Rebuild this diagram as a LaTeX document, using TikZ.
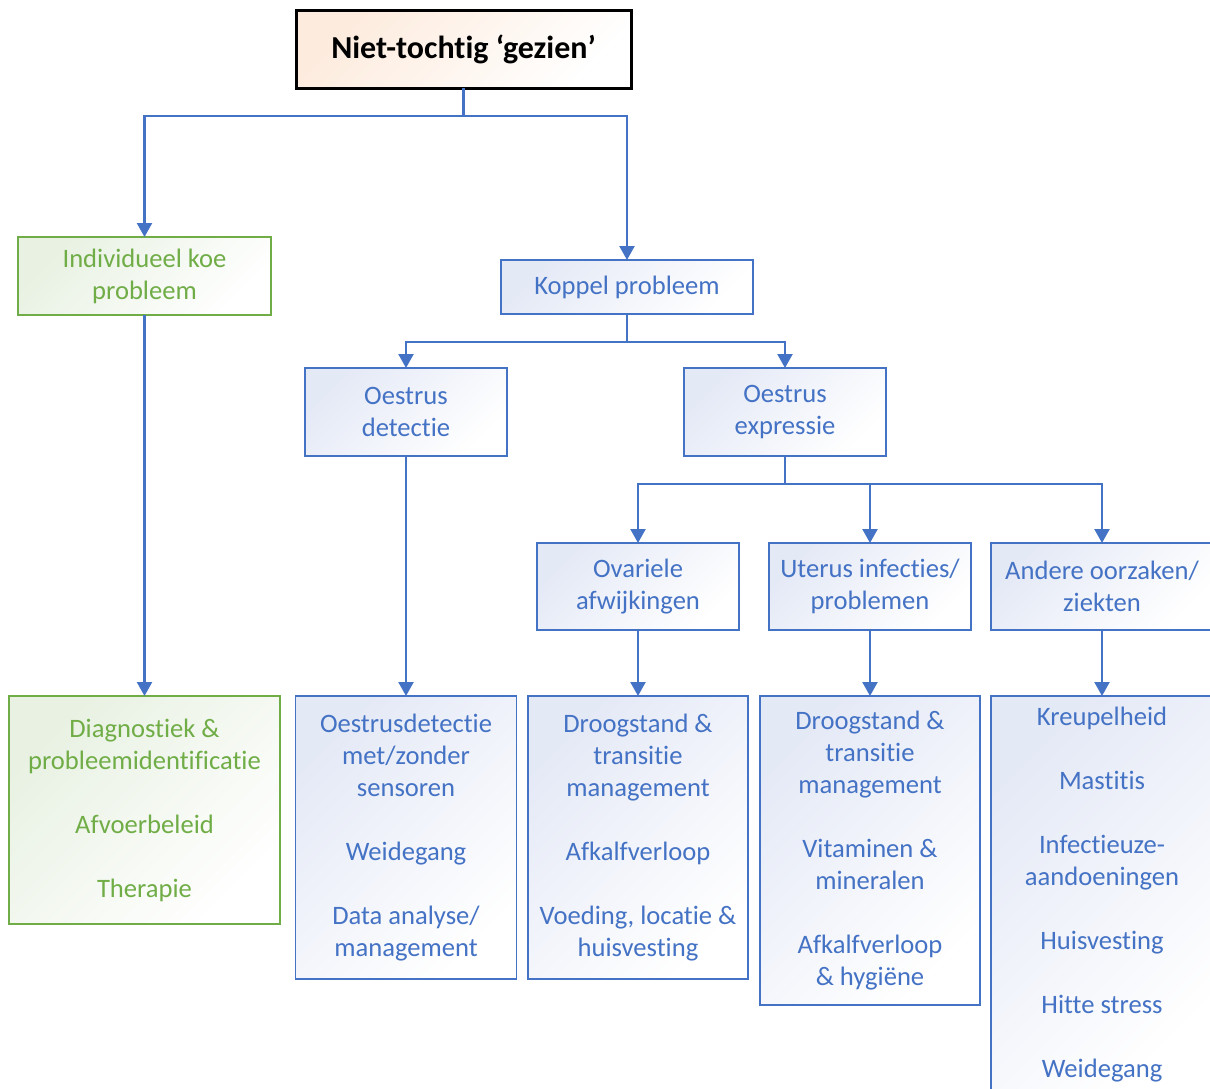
\documentclass[tikz,border=0pt]{standalone}
\usepackage{fontspec}
\setmainfont{Carlito}[Ligatures={TeX,NoCommon}]
\usepackage{xcolor}
\usepackage{tikz}
\usetikzlibrary{arrows.meta,positioning}
\definecolor{offblue}{HTML}{4472C4}
\definecolor{offgreen}{HTML}{70AD47}
\definecolor{bluefill}{HTML}{E4E9F6}
\definecolor{greenfill}{HTML}{E8F1E2}
\definecolor{orangefill}{HTML}{FDEBDD}
\tikzset{
  basebox/.style={rectangle,outer sep=0pt,inner sep=2pt,align=center,font=\fontsize{26.6}{32}\selectfont},
  rootbox/.style={basebox,draw=black,line width=3pt,top color=orangefill,bottom color=white,shading angle=45,font=\fontsize{32}{38}\selectfont\bfseries},
  cowbox/.style={basebox,draw=offgreen,line width=1.5pt,text=offgreen,top color=greenfill,bottom color=white,shading angle=45},
  herdbox/.style={basebox,draw=offblue,line width=1.5pt,text=offblue,top color=bluefill,bottom color=white,shading angle=45},
  arrow/.style={-{Triangle[length=14pt,width=15pt]},line width=2.3pt,draw=offblue}
}

\begin{document}
\begin{tikzpicture}[x=1pt,y=-1pt]
  \useasboundingbox (0,0) rectangle (1210,1088);
  \clip (0,0) rectangle (1210,1088);

  \node[rootbox,minimum width=335pt,minimum height=78pt] (root) at (463.5,49) {Niet-tochtig ‘gezien’};
  \node[cowbox,minimum width=253pt,minimum height=78pt] (indiv) at (144.5,276) {Individueel koe\\probleem};
  \node[herdbox,minimum width=252pt,minimum height=54pt] (koppel) at (627,287) {Koppel probleem};
  \node[herdbox,minimum width=202pt,minimum height=88pt] (detectie) at (406,412) {Oestrus\\detectie};
  \node[herdbox,minimum width=202pt,minimum height=88pt] (expressie) at (785,412) {Oestrus\\expressie};
  \node[herdbox,minimum width=202pt,minimum height=87pt] (ovar) at (638,586.5) {Ovariele\\afwijkingen};
  \node[herdbox,minimum width=202pt,minimum height=87pt] (uterus) at (870,586.5) {Uterus infecties/\\problemen};
  \node[herdbox,minimum width=222pt,minimum height=87pt] (andere) at (1102,586.5) {Andere oorzaken/\\ziekten};

  % onderste rij
  \node[cowbox,minimum width=271pt,minimum height=228pt] (diag) at (144.5,810) {Diagnostiek \&\\probleemidentificatie\\[32pt]Afvoerbeleid\\[32pt]Therapie};
  \node[herdbox,minimum width=221pt,minimum height=283pt] (odet) at (406,837.5) {Oestrusdetectie\\met/zonder\\sensoren\\[32pt]Weidegang\\[32pt]Data analyse/\\management};
  \node[herdbox,minimum width=220pt,minimum height=283pt] (droogA) at (638,837.5) {Droogstand \&\\transitie\\management\\[32pt]Afkalfverloop\\[32pt]Voeding, locatie \&\\huisvesting};
  \node[herdbox,minimum width=220pt,minimum height=309pt] (droogB) at (870,850.5) {Droogstand \&\\transitie\\management\\[32pt]Vitaminen \&\\mineralen\\[32pt]Afkalfverloop\\\& hygiëne};
  \node[herdbox,minimum width=222pt,minimum height=398pt] (kreup) at (1102,895) {Kreupelheid\\[32pt]Mastitis\\[32pt]Infectieuze-\\aandoeningen\\[32pt]Huisvesting\\[32pt]Hitte stress\\[32pt]Weidegang};

  \draw[arrow] (root.south) -- ++(0,28) -| (indiv.north);
  \draw[arrow] (root.south) -- ++(0,28) -| (koppel.north);
  \draw[arrow] (koppel.south) -- ++(0,28) -| (detectie.north);
  \draw[arrow] (koppel.south) -- ++(0,28) -| (expressie.north);
  \draw[arrow] (expressie.south) -- ++(0,28) -| (ovar.north);
  \draw[arrow] (expressie.south) -- ++(0,28) -| (uterus.north);
  \draw[arrow] (expressie.south) -- ++(0,28) -| (andere.north);
  \draw[arrow] (indiv) -- (diag);
  \draw[arrow] (detectie) -- (odet);
  \draw[arrow] (ovar) -- (droogA);
  \draw[arrow] (uterus) -- (droogB);
  \draw[arrow] (andere) -- (kreup);
\end{tikzpicture}
\end{document}
